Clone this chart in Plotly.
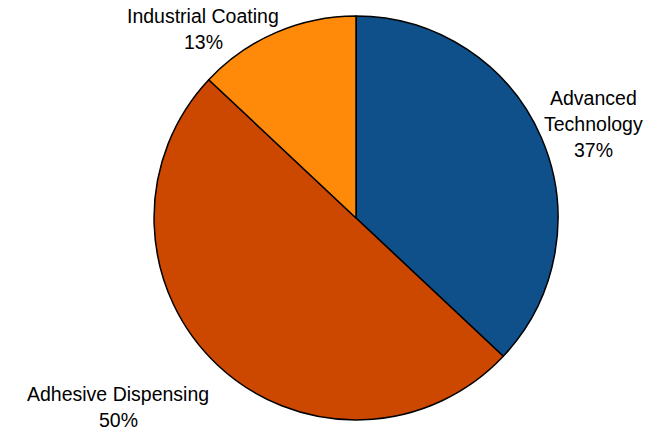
import plotly.graph_objects as go

# Segment share by business line
categories = ["Advanced Technology", "Adhesive Dispensing", "Industrial Coating"]
shares = [37, 50, 13]
colors = ["#0F4F8A", "#CC4700", "#FF8A0A"]

# How each category name is wrapped in its label
label_lines = {
    "Advanced Technology": ["Advanced", "Technology"],
    "Adhesive Dispensing": ["Adhesive Dispensing"],
    "Industrial Coating": ["Industrial Coating"],
}

W, H = 656, 432
# label anchors in pixels: centre x and first-line baseline y
label_anchor = {
    "Advanced Technology": (593, 105),
    "Adhesive Dispensing": (118, 401),
    "Industrial Coating": (203, 23),
}
LINE_STEP = 26
FONT_SIZE = 19.5
FONT = "Liberation Sans, Arial, sans-serif"

fig = go.Figure(
    go.Pie(
        labels=categories,
        values=shares,
        sort=False,
        direction="clockwise",
        rotation=0,
        marker=dict(colors=colors, line=dict(color="black", width=1.5)),
        textinfo="none",
        hoverinfo="label+percent",
        domain=dict(x=[154 / W, 558 / W], y=[12 / H, 416 / H]),
        showlegend=False,
    )
)

total = sum(shares)
for name, value in zip(categories, shares):
    lines = label_lines[name] + [f"{round(100 * value / total)}%"]
    cx, base = label_anchor[name]
    for i, line in enumerate(lines):
        y_mid = base + i * LINE_STEP - 0.35 * FONT_SIZE
        fig.add_annotation(
            x=cx / W,
            y=1 - y_mid / H,
            xref="paper",
            yref="paper",
            xanchor="center",
            yanchor="middle",
            text=line,
            showarrow=False,
            font=dict(family=FONT, size=FONT_SIZE, color="black"),
        )

fig.update_layout(
    width=W,
    height=H,
    margin=dict(l=0, r=0, t=0, b=0),
    paper_bgcolor="white",
    plot_bgcolor="white",
)

fig.write_html("out.html")
